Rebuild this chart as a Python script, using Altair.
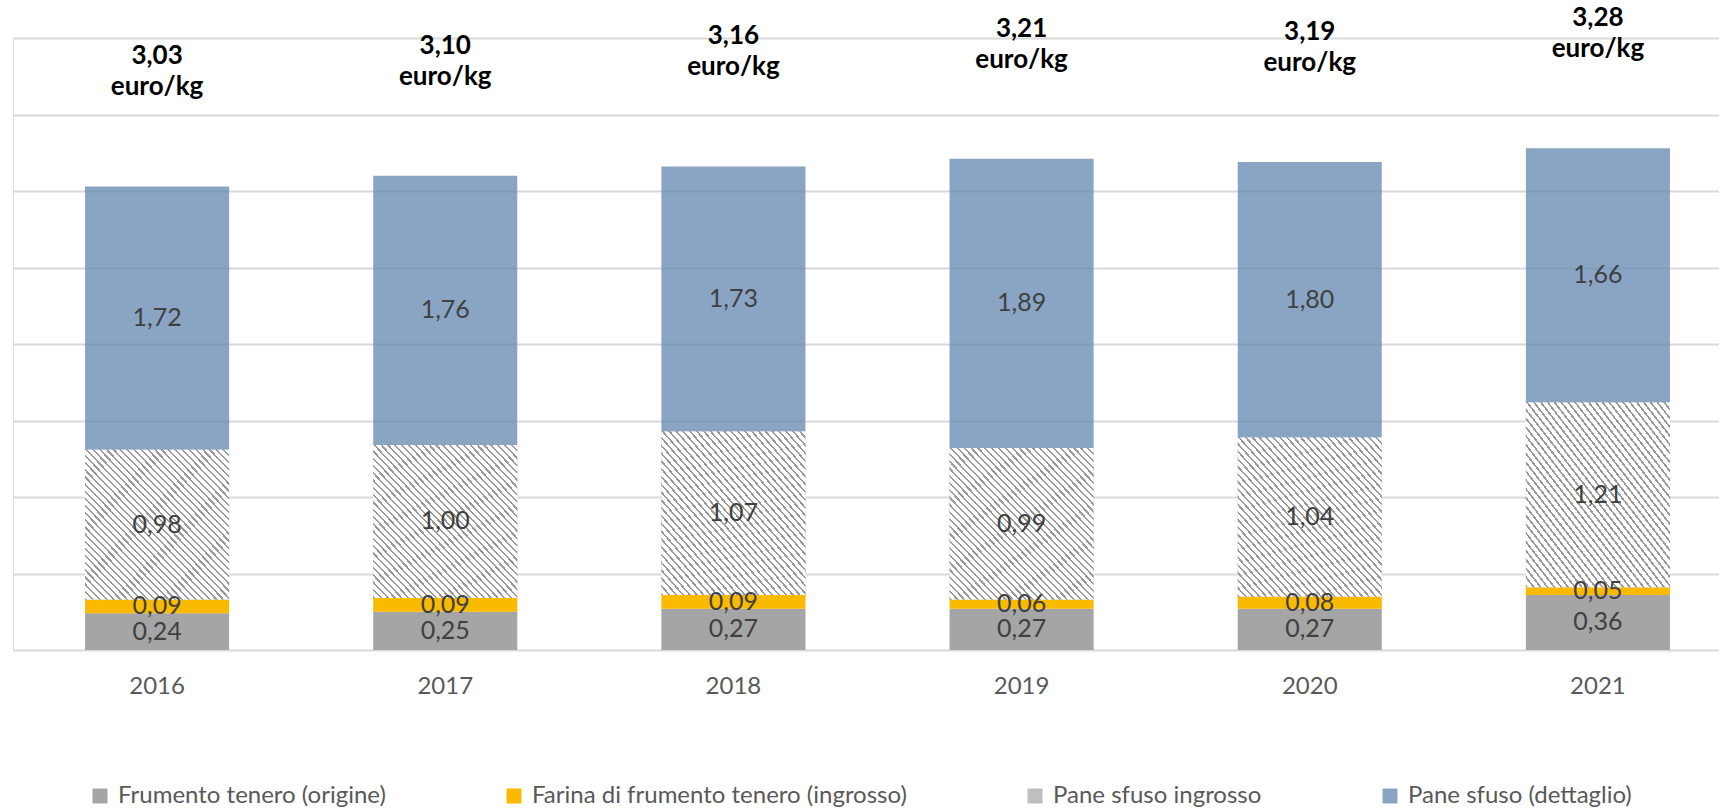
import altair as alt
import pandas as pd

years = ["2016", "2017", "2018", "2019", "2020", "2021"]
series = [
    "Frumento tenero (origine)",
    "Farina di frumento tenero (ingrosso)",
    "Pane sfuso ingrosso",
    "Pane sfuso (dettaglio)",
]
frumento = [0.24, 0.25, 0.27, 0.27, 0.27, 0.36]
farina = [0.09, 0.09, 0.09, 0.06, 0.08, 0.05]
pane_ingrosso = [0.98, 1.00, 1.07, 0.99, 1.04, 1.21]
pane_dettaglio = [1.72, 1.76, 1.73, 1.89, 1.80, 1.66]
colors = ["#A5A5A5", "#F9BA00", "#BFBFBF", "#8AA5C4"]

values = [frumento, farina, pane_ingrosso, pane_dettaglio]
rows = []
for si, (name, vals) in enumerate(zip(series, values)):
    for y, v in zip(years, vals):
        rows.append({"year": y, "series": name, "value": v, "order": si})
df = pd.DataFrame(rows)

totals = pd.DataFrame({
    "year": years,
    "total": [round(sum(v[i] for v in values), 2) for i in range(len(years))],
})

FONT = "Lato"

x_enc = alt.X(
    "year:O",
    scale=alt.Scale(range=[0, 1729], paddingInner=0.5, paddingOuter=0.25),
    axis=alt.Axis(title=None, labelFontSize=24, labelColor="#595959", labelFont=FONT,
                  ticks=False, domain=False, labelPadding=24, labelAngle=0),
)
y_scale = alt.Scale(domain=[0, 4], nice=False, zero=True)
y_axis = alt.Axis(title=None, labels=False, ticks=False, domain=False, grid=True,
                  values=[0, 0.5, 1, 1.5, 2, 2.5, 3, 3.5, 4],
                  gridColor="#D9D9D9", gridWidth=2)

stacked = alt.Chart(df).transform_stack(
    stack="value", groupby=["year"], as_=["y0", "y1"],
    sort=[alt.SortField("order", "ascending")], offset="zero",
)

base = stacked.mark_bar().encode(
    x=x_enc,
    y=alt.Y("y0:Q", scale=y_scale, axis=y_axis),
    y2="y1:Q",
    color=alt.Color(
        "series:N",
        scale=alt.Scale(domain=series, range=colors),
        legend=alt.Legend(
            title=None, orient="none", legendX=75, legendY=746,
            direction="horizontal", columns=4, columnPadding=116,
            symbolType="square", symbolSize=225, symbolStrokeWidth=0,
            labelFont=FONT, labelFontSize=24, labelColor="#595959",
            labelLimit=600, labelOffset=6,
        ),
    ),
    opacity=alt.condition(alt.datum.series == series[3], alt.value(0), alt.value(1)),
)

N = 42
stops = []
for k in range(N):
    a = k / N
    b = (k + 0.32) / N
    c = (k + 1) / N
    stops += [
        alt.GradientStop(color="#9A9A9A", offset=a),
        alt.GradientStop(color="#9A9A9A", offset=b),
        alt.GradientStop(color="#FFFFFF", offset=b),
        alt.GradientStop(color="#FFFFFF", offset=c),
    ]
hatch_fill = alt.Gradient(gradient="linear", stops=stops, x1=0, y1=1, x2=1, y2=0)

hatch = stacked.transform_filter(alt.datum.series == series[2]).mark_bar(
    color=hatch_fill
).encode(
    x=x_enc,
    y=alt.Y("y0:Q", scale=y_scale, axis=y_axis),
    y2="y1:Q",
)

blue = stacked.transform_filter(alt.datum.series == series[3]).mark_bar(
    color="#6387B0", opacity=0.75
).encode(
    x=x_enc,
    y=alt.Y("y0:Q", scale=y_scale, axis=y_axis),
    y2="y1:Q",
)

seg_labels = stacked.transform_calculate(
    mid="(datum.y0 + datum.y1) / 2",
    lbl="replace(format(datum.value, '.2f'), '.', ',')",
).mark_text(font=FONT, fontSize=25, color="#404040", baseline="middle").encode(
    x=x_enc,
    y=alt.Y("mid:Q", scale=y_scale, axis=y_axis),
    text="lbl:N",
)

total_labels = alt.Chart(totals).transform_calculate(
    ty="datum.total + 0.85",
    lbl="replace(format(datum.total, '.2f'), '.', ',') + '\\n' + 'euro/kg'",
).mark_text(font=FONT, fontSize=26, fontWeight="bold", color="#000000",
            baseline="middle", lineBreak="\n", lineHeight=31).encode(
    x=x_enc,
    y=alt.Y("ty:Q", scale=y_scale, axis=y_axis),
    text="lbl:N",
)

chart = alt.layer(base, hatch, blue, seg_labels, total_labels).properties(
    width=1706, height=612,
    autosize=alt.AutoSizeParams(type="none"),
    padding={"left": 13, "top": 38, "right": 0, "bottom": 159},
).configure_view(strokeWidth=0).configure(background="white")

chart.save("out.html", embed_options={"renderer": "svg", "actions": False})
